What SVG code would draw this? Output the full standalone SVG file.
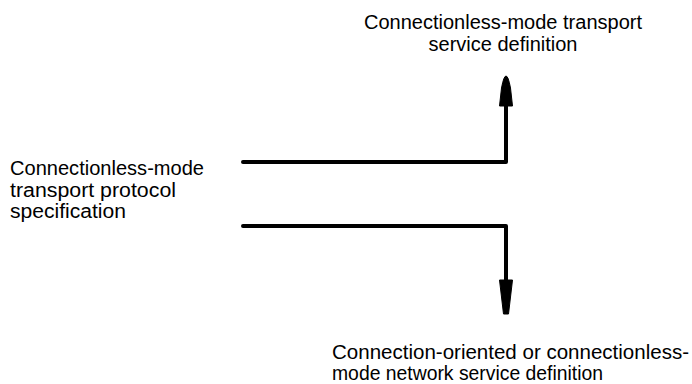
<svg xmlns="http://www.w3.org/2000/svg" width="692" height="384" viewBox="0 0 692 384">
<style>
  .t { font-family: "Liberation Sans", Arial, sans-serif; font-size: 20px; fill: #000; }
  .c { fill: none; stroke: #000; stroke-width: 4; stroke-linecap: round; stroke-linejoin: round; }
  .h { fill: #000; stroke: #000; stroke-width: 1; stroke-linejoin: round; }
</style>
<rect width="692" height="384" fill="#fff"/>
<g id="node-protocol">
  <text class="t" x="10" y="175" textLength="194" lengthAdjust="spacingAndGlyphs">Connectionless-mode</text>
  <text class="t" x="10" y="197" textLength="166" lengthAdjust="spacingAndGlyphs">transport protocol</text>
  <text class="t" x="10" y="218" textLength="116" lengthAdjust="spacingAndGlyphs">specification</text>
</g>
<g id="node-transport-service">
  <text class="t" x="364" y="29" textLength="278" lengthAdjust="spacingAndGlyphs">Connectionless-mode transport</text>
  <text class="t" x="503" y="51" text-anchor="middle">service definition</text>
</g>
<g id="node-network-service">
  <text class="t" x="332" y="359" textLength="357" lengthAdjust="spacingAndGlyphs">Connection-oriented or connectionless-</text>
  <text class="t" x="332" y="380" textLength="271" lengthAdjust="spacingAndGlyphs">mode network service definition</text>
</g>
<g id="connectors">
  <path class="c" d="M243,162 H506 V104"/>
  <path class="h" d="M499.5,106 L512.5,106 L510.5,88 Q506,64 501.5,88 Z"/>
  <path class="c" d="M243,226 H506 V282"/>
  <path class="h" d="M499.5,280 L512.5,280 L508.5,314 L503.5,314 Z"/>
</g>
</svg>
